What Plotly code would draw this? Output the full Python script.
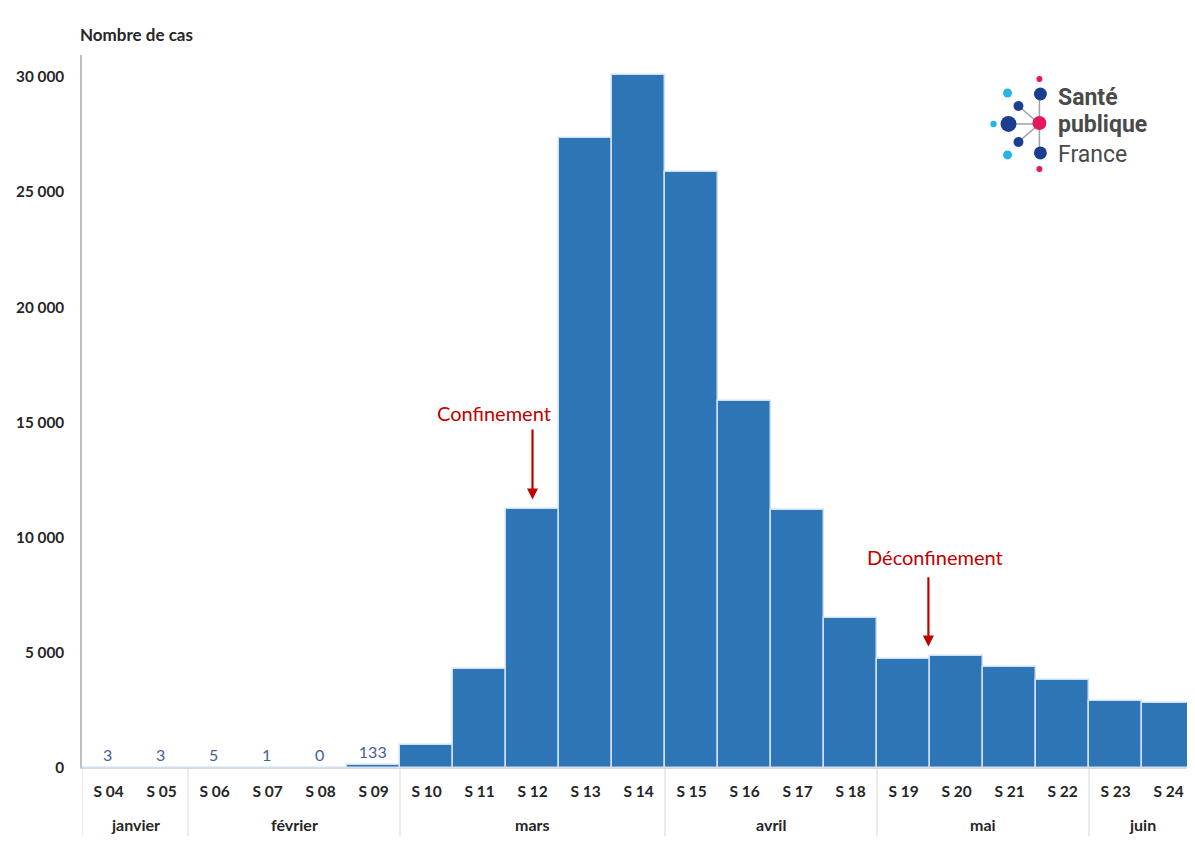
import plotly.graph_objects as go

# ---- data ----
weeks = ["S 04", "S 05", "S 06", "S 07", "S 08", "S 09", "S 10", "S 11", "S 12", "S 13", "S 14",
         "S 15", "S 16", "S 17", "S 18", "S 19", "S 20", "S 21", "S 22", "S 23", "S 24"]
cases = [3, 3, 5, 1, 0, 133, 990, 4290, 11260, 27350, 30100,
         25890, 15940, 11210, 6490, 4750, 4850, 4400, 3800, 2900, 2810]
shown_labels = ["3", "3", "5", "1", "0", "133"]
months = ["janvier", "février", "mars", "avril", "mai", "juin"]
month_first_idx = [0, 2, 6, 11, 15, 19]
month_last_idx = [1, 5, 10, 14, 18, 20]
y_ticks = [0, 5000, 10000, 15000, 20000, 25000, 30000]
events = ["Confinement", "Déconfinement"]

# page offset (body margin) compensation
OFF = 8
W, H = 1195, 866
L, R, T, B = 79 - OFF, OFF, 55 - OFF, 866 - (768.5 - OFF)
PW, PH = W - L - R, H - T - B

def px(x):
    return (x - OFF - L) / PW

def py(y):
    return (H - B - (y - OFF)) / PH

FONT = "Lato, sans-serif"
idx = list(range(len(weeks)))
bar_text = shown_labels + [""] * (len(weeks) - len(shown_labels))

fig = go.Figure()
fig.add_trace(go.Bar(
    x=idx, y=cases,
    marker=dict(color="#2e75b6", line=dict(color="#cfe0f2", width=1.5)),
    text=bar_text, textposition="outside",
    textfont=dict(family=FONT, size=16, color="#44609a"),
    cliponaxis=False, hoverinfo="x+y",
))

shapes = []
annotations = []

# month separators
bounds = [-0.5] + [m + 0.5 for m in month_last_idx[:-1]]
for b in bounds:
    shapes.append(dict(type="line", xref="x", yref="paper", x0=b, x1=b,
                       y0=0, y1=py(837), line=dict(color="#d9d9d9", width=1)))
for name, a, b in zip(months, month_first_idx, month_last_idx):
    annotations.append(dict(x=(a + b) / 2, y=py(825), xref="x", yref="paper",
                            yanchor="middle", xanchor="center",
                            text="<b>%s</b>" % name, showarrow=False,
                            font=dict(family=FONT, size=16, color="#262626")))

# y axis title
annotations.append(dict(x=px(75), y=py(34), xref="paper", yref="paper",
                        text="<b>Nombre de cas</b>", showarrow=False,
                        xanchor="left", yanchor="middle",
                        font=dict(family=FONT, size=17, color="#262626")))

# event arrows
red = "#c00000"
annotations.append(dict(x=8, y=11650, ax=8, ay=14760, xref="x", yref="y", axref="x", ayref="y",
                        text="", showarrow=True, arrowhead=2, arrowsize=1, arrowwidth=2.2,
                        arrowcolor=red))
annotations.append(dict(x=7.27, y=15420, xref="x", yref="y", text=events[0], showarrow=False,
                        xanchor="center", yanchor="middle",
                        font=dict(family=FONT, size=20, color=red)))
annotations.append(dict(x=15.47, y=5270, ax=15.47, ay=8350, xref="x", yref="y", axref="x", ayref="y",
                        text="", showarrow=True, arrowhead=2, arrowsize=1, arrowwidth=2.2,
                        arrowcolor=red))
annotations.append(dict(x=15.59, y=9175, xref="x", yref="y", text=events[1], showarrow=False,
                        xanchor="center", yanchor="middle",
                        font=dict(family=FONT, size=20, color=red)))

# logo
gray = "#a0a0a0"
for (x0, y0, x1, y1) in [(1039, 94, 1039, 153), (1008, 124, 1039, 124),
                         (1018, 106, 1039, 124), (1018, 142, 1039, 124)]:
    shapes.append(dict(type="line", xref="paper", yref="paper", x0=px(x0), y0=py(y0),
                       x1=px(x1), y1=py(y1), line=dict(color=gray, width=1.5)))
dots = [
    (1039, 79, 3, "#e5175d"), (1039, 169, 3, "#e5175d"),
    (1040, 94, 6.5, "#1b3e93"), (1040, 153, 6.5, "#1b3e93"),
    (1008, 124, 8, "#1b3e93"), (1018, 106, 5, "#1b3e93"), (1018, 142, 5, "#1b3e93"),
    (1007, 93, 4.5, "#29b4e8"), (1007, 155, 4.5, "#29b4e8"), (993, 124, 3.2, "#29b4e8"),
    (1039, 123, 7, "#e5175d"),
]
for cx, cy, r, c in dots:
    shapes.append(dict(type="circle", xref="paper", yref="paper",
                       x0=px(cx - r), x1=px(cx + r), y0=py(cy + r), y1=py(cy - r),
                       fillcolor=c, line=dict(width=0)))
for txt, yy, bold in [("Santé", 98, True), ("publique", 125, True), ("France", 155, False)]:
    annotations.append(dict(x=px(1057), y=py(yy), xref="paper", yref="paper",
                            xanchor="left", yanchor="middle", borderpad=0,
                            text=("<b>%s</b>" % txt) if bold else txt, showarrow=False,
                            font=dict(family="Roboto, sans-serif", size=23, color="#4a4a4a")))

fig.update_layout(
    width=W, height=H,
    margin=dict(l=L, r=R, t=T, b=B),
    paper_bgcolor="white", plot_bgcolor="white",
    bargap=0, showlegend=False,
    shapes=shapes, annotations=annotations,
    font=dict(family=FONT),
)
fig.update_xaxes(
    range=[-0.5, len(weeks) - 0.5],
    tickmode="array", tickvals=idx, ticktext=["<b>%s</b>" % w for w in weeks],
    tickfont=dict(family=FONT, size=15.5, color="#262626"),
    showgrid=False, zeroline=False, showline=True, linecolor="#d9d9d9", linewidth=1,
    ticks="", ticklabelstandoff=9, fixedrange=True,
)
fig.update_yaxes(
    range=[0, 30950], tickmode="array", tickvals=y_ticks,
    ticktext=["<b>%s</b>" % ("{:,}".format(v).replace(",", " ")) for v in y_ticks],
    tickfont=dict(family=FONT, size=15.3, color="#262626"),
    showgrid=False, zeroline=False, showline=True, linecolor="#bfbfbf", linewidth=1.5,
    ticks="", ticklabelstandoff=13, fixedrange=True,
)

fig.write_html("out.html")
